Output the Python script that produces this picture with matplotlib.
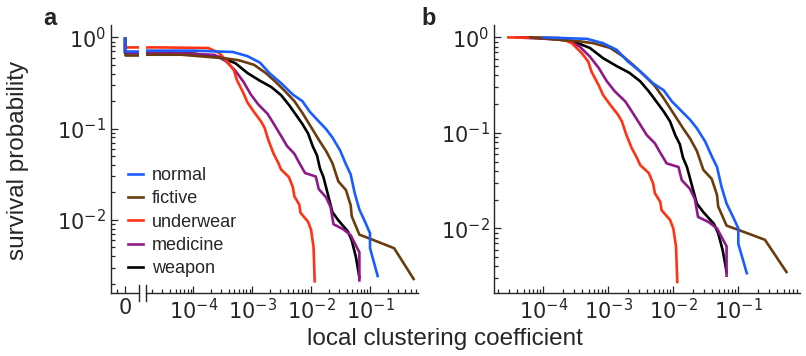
import matplotlib
matplotlib.use("Agg")
import matplotlib.pyplot as plt
import numpy as np
from matplotlib.ticker import LogLocator, FixedLocator, NullFormatter, NullLocator

plt.rcParams['font.family'] = ['Liberation Sans', 'DejaVu Sans']
plt.rcParams['mathtext.fontset'] = 'dejavusans'

INK = '#262626'

###############
# Data
###############
categories = ["normal", "fictive", "underwear", "medicine", "weapon"]
colors = ["#1a5cff", "#6b3c0e", "#ff3311", "#8e1a8a", "#000000"]
# share of nodes with clustering > 0 (plateau level in panel a)
nonzero_fraction = [0.715, 0.645, 0.775, 0.68, 0.67]

# survival probability of nonzero clustering values (panel b)
normal_x = [1.0e-4, 4.7e-4, 8.3e-4, 1.35e-3, 2.0e-3, 3.1e-3, 4.9e-3, 7.1e-3, 9.5e-3,
            0.0135, 0.018, 0.023, 0.031, 0.039, 0.047, 0.055, 0.066, 0.083, 0.1, 0.1, 0.135]
normal_y = [1.0, 0.966, 0.87, 0.74, 0.56, 0.44, 0.33, 0.28, 0.214,
            0.168, 0.138, 0.112, 0.081, 0.057, 0.044, 0.0275, 0.0182, 0.0132, 0.0100, 0.0069, 0.0034]

fictive_x = [6.3e-5, 3.6e-4, 5.9e-4, 1.07e-3, 1.7e-3, 2.4e-3, 3.5e-3, 5.2e-3, 7.1e-3, 8.9e-3,
             0.0112, 0.0141, 0.018, 0.023, 0.029, 0.039, 0.047, 0.049, 0.066, 0.107, 0.257, 0.55]
fictive_y = [1.0, 0.91, 0.87, 0.776, 0.63, 0.516, 0.407, 0.31, 0.231, 0.182,
             0.143, 0.112, 0.088, 0.065, 0.041, 0.033, 0.0224, 0.017, 0.0107, 0.0095, 0.0076, 0.0035]

underwear_x = [2.9e-5, 1.8e-4, 2.75e-4, 3.9e-4, 4.9e-4, 5.5e-4, 7.1e-4, 8.3e-4, 1.07e-3, 1.41e-3,
               1.62e-3, 1.9e-3, 2.3e-3, 2.75e-3, 3.1e-3, 4.2e-3, 4.9e-3, 5.2e-3, 6.3e-3, 6.6e-3,
               8.9e-3, 0.0100, 0.0110, 0.0112, 0.0115]
underwear_y = [1.0, 0.985, 0.87, 0.685, 0.56, 0.44, 0.316, 0.25, 0.197, 0.155,
               0.132, 0.095, 0.069, 0.055, 0.046, 0.038, 0.0295, 0.0234, 0.019, 0.0155,
               0.0123, 0.0100, 0.0065, 0.0047, 0.00275]

medicine_x = [3.8e-5, 2.3e-4, 3.6e-4, 5.2e-4, 7.1e-4, 9.5e-4, 1.26e-3, 1.82e-3, 2.3e-3, 3.1e-3,
              3.9e-3, 5.2e-3, 6.3e-3, 7.9e-3, 0.012, 0.0135, 0.018, 0.0214, 0.024, 0.0347,
              0.047, 0.066, 0.066]
medicine_y = [1.0, 0.944, 0.805, 0.63, 0.48, 0.347, 0.272, 0.214, 0.168, 0.122,
              0.095, 0.078, 0.062, 0.048, 0.044, 0.032, 0.026, 0.0204, 0.0132, 0.0117,
              0.0100, 0.0065, 0.0032]

weapon_x = [4.5e-5, 1.0e-4, 2.9e-4, 5.2e-4, 8.3e-4, 1.35e-3, 2.1e-3, 3.1e-3, 4.2e-3, 5.2e-3,
            7.1e-3, 8.9e-3, 0.0107, 0.0126, 0.0141, 0.0162, 0.019, 0.023, 0.029, 0.042,
            0.049, 0.0575, 0.066]
weapon_y = [1.0, 0.99, 0.91, 0.776, 0.607, 0.50, 0.427, 0.347, 0.272, 0.224,
            0.168, 0.132, 0.095, 0.076, 0.055, 0.044, 0.0295, 0.0182, 0.0148, 0.0112,
            0.0089, 0.0059, 0.0035]

series_x = [normal_x, fictive_x, underwear_x, medicine_x, weapon_x]
series_y = [normal_y, fictive_y, underwear_y, medicine_y, weapon_y]

x_tick_zero = ["$0$"]


def style_axis(ax):
    for side in ("top", "right"):
        ax.spines[side].set_visible(False)
    for side in ("left", "bottom"):
        ax.spines[side].set_color(INK)
        ax.spines[side].set_linewidth(1.0)
    ax.tick_params(which="both", direction="in", colors=INK, labelsize=15, width=0.9,
                   labelfontfamily="DejaVu Sans")
    ax.tick_params(which="major", length=5)
    ax.tick_params(which="minor", length=2.8)


def log_ticks(axis):
    axis.set_major_locator(LogLocator(base=10, numticks=10))
    axis.set_minor_locator(LogLocator(base=10, subs=np.arange(2, 10), numticks=10))
    axis.set_minor_formatter(NullFormatter())


fig = plt.figure(figsize=(8.06, 3.56), dpi=100)
W, H = 806., 356.
bottom, top = 293., 25.


def add_axes(x0, x1):
    return fig.add_axes([x0 / W, 1 - bottom / H, (x1 - x0) / W, (bottom - top) / H])


ax_zero = add_axes(110.7, 139.0)
ax_a = add_axes(146.0, 418.3)
ax_b = add_axes(494.3, 800.0)

handles = []
# draw in reverse so "normal" lies on top, legend in original order
for i in reversed(range(len(categories))):
    frac = nonzero_fraction[i]
    xa = [0.0, 0.0] + list(series_x[i])
    ya = [1.0, frac] + [frac * v for v in series_y[i]]
    ax_zero.plot(xa, ya, color=colors[i], lw=1.9, solid_capstyle="butt")
    ax_a.plot(xa, ya, color=colors[i], lw=1.9)
    h, = ax_b.plot(series_x[i], series_y[i], color=colors[i], lw=1.9)
    handles.append(h)
handles = handles[::-1]

# panel a, zero part
ax_zero.set_yscale("log")
ax_zero.set_xlim(-1.0e-6, 0.98e-6)
ax_zero.set_ylim(10 ** -2.80, 10 ** 0.135)
ax_zero.xaxis.set_major_locator(FixedLocator([0.0]))
ax_zero.set_xticklabels(x_tick_zero)
ax_zero.xaxis.set_minor_locator(FixedLocator([-0.54e-6]))
log_ticks(ax_zero.yaxis)
style_axis(ax_zero)

# panel a, log part
ax_a.set_xscale("log")
ax_a.set_yscale("log")
ax_a.set_xlim(10 ** -4.803, 10 ** -0.18)
ax_a.set_ylim(10 ** -2.80, 10 ** 0.135)
log_ticks(ax_a.xaxis)
style_axis(ax_a)
ax_a.spines["left"].set_visible(False)
ax_a.yaxis.set_major_locator(NullLocator())
ax_a.yaxis.set_minor_locator(NullLocator())

# break marks
for ax, xpos in ((ax_zero, 1.0), (ax_a, 0.0)):
    ax.plot([xpos, xpos], [-0.03, 0.03], transform=ax.transAxes, color=INK,
            lw=1.0, clip_on=False)

# panel b
ax_b.set_xscale("log")
ax_b.set_yscale("log")
ax_b.set_xlim(10 ** -4.754, 10 ** -0.051)
ax_b.set_ylim(10 ** -2.676, 10 ** 0.13)
log_ticks(ax_b.xaxis)
log_ticks(ax_b.yaxis)
style_axis(ax_b)

fig.legend(handles, categories, loc="upper left", bbox_to_anchor=(128.3 / W, 1 - 167 / H),
           frameon=False, fontsize=13, handlelength=0.83, handletextpad=0.47,
           labelspacing=0.35, borderpad=0, borderaxespad=0, labelcolor=INK)

fig.text(18.5 / W, 1 - 160 / H, "survival probability", rotation=90, ha="center",
         va="center", fontsize=17.5, color=INK)
fig.text(445 / W, 1 - 339 / H, "local clustering coefficient", ha="center",
         va="center", fontsize=17.5, color=INK)
fig.text(43 / W, 1 - 25 / H, "a", fontsize=17, fontweight="bold", color=INK, va="baseline")
fig.text(421.5 / W, 1 - 25 / H, "b", fontsize=17, fontweight="bold", color=INK, va="baseline")

fig.savefig("out.png", dpi=100)
